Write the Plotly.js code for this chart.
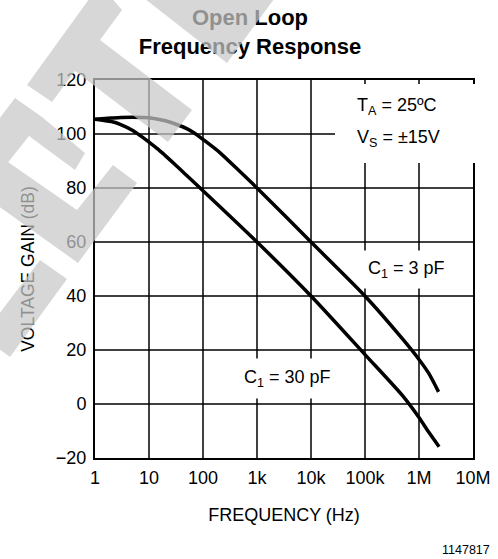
<!DOCTYPE html>
<html><head><meta charset="utf-8">
<script src="https://cdn.plot.ly/plotly-3.0.1.min.js"></script>
<style>
html,body{margin:0;padding:0;background:#fff}
#chart{width:498px;height:559px}
#chart .gridlayer path{shape-rendering:auto !important}
</style>
</head><body><div id="chart"></div>
<script>
// ---- data ----
const freq30 = [1, 2, 3, 5, 7, 10, 15, 20, 30, 50, 100, 1e3, 1e4, 1e5, 5e5, 1e6, 1.5e6, 2.35e6];
const gain30 = [105.5, 104.6, 103.5, 101.3, 99.3, 97, 94.2, 92, 88.8, 84.6, 79, 60, 40, 18.3, 3, -5, -10.3, -15.8];
const freq3 = [1, 2, 3, 5, 10, 20, 30, 50, 70, 100, 200, 500, 1e3, 1e4, 1e5, 5e5, 1e6, 1.5e6, 2.3e6];
const gain3 = [105.5, 105.9, 106.1, 106.2, 106, 104.9, 103.8, 102, 100.3, 98, 93.3, 85.8, 80, 60, 40, 24, 16.5, 11.5, 4.5];
const xTickVals = [1, 10, 100, 1e3, 1e4, 1e5, 1e6, 1e7];
const xTickText = ['1', '10', '100', '1k', '10k', '100k', '1M', '10M'];
const yTickVals = [-20, 0, 20, 40, 60, 80, 100, 120];

// ---- geometry ----
const W = 498, H = 559, ML = 95, MR = 25, MT = 80, MB = 101;
const PW = W - ML - MR, PH = H - MT - MB;
const FONT = 'Liberation Sans, Arial, Helvetica, sans-serif';
const px2x = p => (p - ML) / PW;
const py2y = p => (H - MB - p) / PH;

// watermark polygons (page pixel coords)
const wmPolys = [
  [[27,85],[92,-5],[109,-5],[122,10],[100,40],[192,110],[168,142],[75,71],[52,102]],
  [[140,-5],[277,-5],[227,63]],
  [[15,98],[42,117],[85,153],[75,170],[29,136],[-10,185],[-10,131]],
  [[113,165],[137,183],[78,263],[-10,200],[-10,185],[8,162],[77,210]],
  [[40,260],[67,279],[10,357],[-10,342],[-10,326]]
];
const polyPath = pts =>
  'M' + pts.map(p => px2x(p[0]).toFixed(4) + ',' + py2y(p[1]).toFixed(4)).join('L') + 'Z';

const lineStyle = {color: '#000', width: 3.5, shape: 'spline', smoothing: 0.7};
const traces = [
  {x: freq3, y: gain3, mode: 'lines', line: lineStyle, name: 'C1 = 3 pF', hoverinfo: 'skip'},
  {x: freq30, y: gain30, mode: 'lines', line: lineStyle, name: 'C1 = 30 pF', hoverinfo: 'skip'}
];

const axisCommon = {
  showgrid: true, gridcolor: '#000', gridwidth: 1.5,
  showline: true, linecolor: '#000', linewidth: 2, mirror: true,
  zeroline: false, ticks: '', fixedrange: true,
  tickfont: {family: FONT, size: 18, color: '#000'}
};

const shapes = [
  {type: 'rect', xref: 'paper', yref: 'paper', layer: 'above',
   x0: px2x(335), x1: px2x(477), y0: py2y(163), y1: py2y(84),
   fillcolor: '#fff', line: {width: 0}}
].concat(wmPolys.map(pts => ({
  type: 'path', xref: 'paper', yref: 'paper', layer: 'above',
  path: polyPath(pts), fillcolor: 'rgb(200,200,200)', opacity: 0.72, line: {width: 0}
})));

const layout = {
  width: W, height: H,
  margin: {l: ML, r: MR, t: MT, b: MB},
  paper_bgcolor: '#fff', plot_bgcolor: '#fff',
  showlegend: false,
  title: {
    text: 'Open Loop<br>Frequency Response',
    font: {family: FONT, size: 22, color: '#000', weight: 700},
    x: 0.502, xref: 'container', xanchor: 'center',
    y: 1 - 25 / H, yref: 'container', yanchor: 'top'
  },
  xaxis: Object.assign({}, axisCommon, {
    type: 'log', range: [0, 7],
    tickmode: 'array', tickvals: xTickVals, ticktext: xTickText,
    ticklabelstandoff: 2,
    title: {text: 'FREQUENCY (Hz)', font: {family: FONT, size: 18, color: '#000'}, standoff: 22}
  }),
  yaxis: Object.assign({}, axisCommon, {
    range: [-20, 120],
    tickmode: 'array', tickvals: yTickVals,
    ticklabelstandoff: 3,
    title: {text: 'VOLTAGE GAIN (dB)', font: {family: FONT, size: 17.5, color: '#000'}, standoff: 17}
  }),
  shapes: shapes,
  annotations: [
    {text: 'T<sub>A</sub> = 25ºC', xref: 'paper', yref: 'paper', x: px2x(355), y: py2y(106),
     xanchor: 'left', yanchor: 'middle', showarrow: false, font: {family: FONT, size: 18, color: '#000'}},
    {text: 'V<sub>S</sub> = ±15V', xref: 'paper', yref: 'paper', x: px2x(355), y: py2y(138),
     xanchor: 'left', yanchor: 'middle', showarrow: false, font: {family: FONT, size: 18, color: '#000'}},
    {text: 'C<sub>1</sub> = 3 pF', xref: 'paper', yref: 'paper', x: px2x(406.5), y: py2y(269),
     xanchor: 'center', yanchor: 'middle', showarrow: false, bgcolor: '#fff', borderpad: 7,
     font: {family: FONT, size: 18, color: '#000'}},
    {text: 'C<sub>1</sub> = 30 pF', xref: 'paper', yref: 'paper', x: px2x(287.5), y: py2y(378),
     xanchor: 'center', yanchor: 'middle', showarrow: false, bgcolor: '#fff', borderpad: 8,
     font: {family: FONT, size: 18, color: '#000'}},
    {text: '1147817', xref: 'paper', yref: 'paper', x: px2x(492), y: py2y(550),
     xanchor: 'right', yanchor: 'middle', showarrow: false, font: {family: FONT, size: 12.5, color: '#000'}}
  ]
};

Plotly.newPlot('chart', traces, layout, {staticPlot: true, displayModeBar: false}).then(gd => {
  // lift the watermark above every layer, titles included
  const info = gd.querySelector('.infolayer');
  const host = info ? info.parentNode : null;
  const paths = Array.from(gd.querySelectorAll('.layer-above .shapelayer path'));
  if (host) paths.slice(1).forEach(p => host.appendChild(p));
});
</script>
</body></html>
